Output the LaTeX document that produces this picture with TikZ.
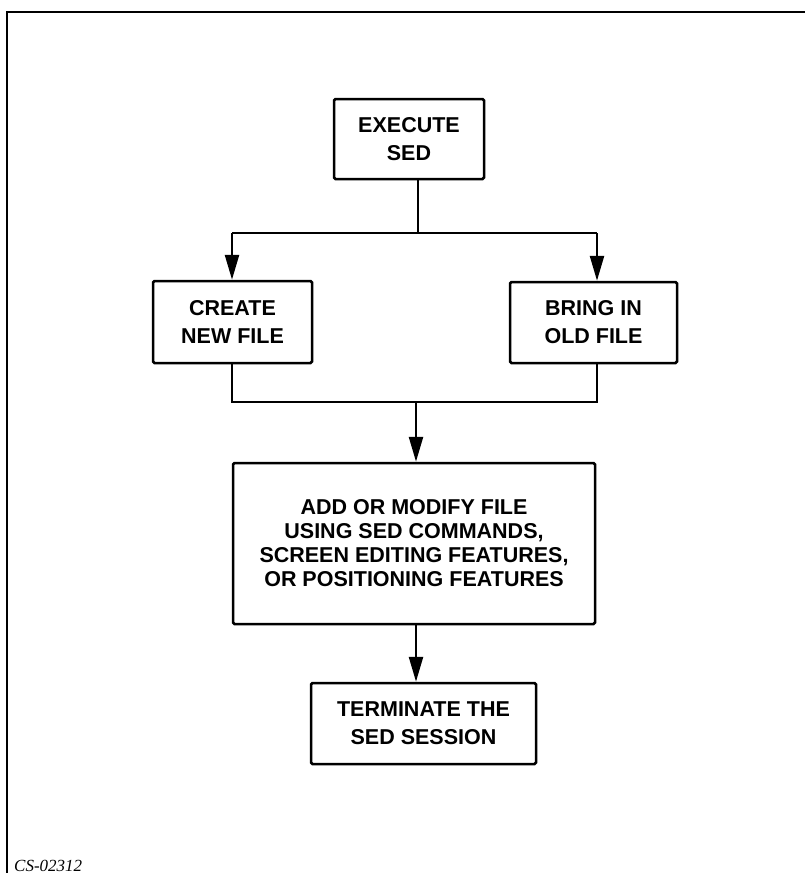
\documentclass[tikz,border=0pt]{standalone}
\usepackage{fontspec}
\setmainfont{Liberation Sans}
\newfontfamily\labelfont{Liberation Serif}
\usetikzlibrary{arrows.meta}
\tikzset{
  flowbox/.style={draw, line width=2.5pt, rounded corners=1.5pt, inner sep=0pt, align=center,
    font=\fontsize{21.5}{28}\selectfont\bfseries},
  bigbox/.style={flowbox, font=\fontsize{21.5}{24}\selectfont\bfseries},
  conn/.style={line width=2.5pt},
  arr/.style={conn, -{Triangle[length=25pt,width=14pt]}},
  frame/.style={line width=2pt}
}
\begin{document}
\begin{tikzpicture}[x=1pt,y=-1pt]
\useasboundingbox (0,0) rectangle (805,873);
% frame
\coordinate (ftr) at (805,12);
\coordinate (ftl) at (7,12);
\coordinate (fbl) at (7,880);
\draw[frame] (ftr) -- (ftl) -- (fbl);
\node[anchor=base west, inner sep=0pt, font=\labelfont\itshape\fontsize{17}{17}\selectfont] (lbl) at (14,871) {CS-02312};

% boxes
\node[flowbox, minimum width=150pt, minimum height=80pt] (exec) at (409,139) {EXECUTE\\SED};
\node[flowbox, minimum width=159pt, minimum height=82pt] (create) at (232.5,322) {CREATE\\NEW FILE};
\node[flowbox, minimum width=167pt, minimum height=81pt] (bring) at (593.5,322.5) {BRING IN\\OLD FILE};
\node[bigbox, minimum width=362pt, minimum height=161pt] (modify) at (414,543.5) {ADD OR MODIFY FILE\\USING SED COMMANDS,\\SCREEN EDITING FEATURES,\\OR POSITIONING FEATURES};
\node[flowbox, minimum width=225pt, minimum height=81pt] (term) at (423.5,723.5) {TERMINATE THE\\SED SESSION};

% junction coordinates
\coordinate (split) at (418,233);
\coordinate (lsplit) at (232,233);
\coordinate (rsplit) at (597,233);
\coordinate (merge) at (416,402);
\coordinate (lmerge) at (232,402);
\coordinate (rmerge) at (597,402);

% connectors
\draw[conn] (exec.south -| split) -- (split);
\draw[conn] (lsplit) -- (rsplit);
\draw[arr] (lsplit) -- (create.north -| lsplit);
\draw[arr] (rsplit) -- (bring.north -| rsplit);
\draw[conn] (create.south -| lmerge) -- (lmerge) -- (rmerge) -- (bring.south -| rmerge);
\draw[arr] (merge) -- (modify.north -| merge);
\draw[arr] (modify.south -| merge) -- (term.north -| merge);
\end{tikzpicture}
\end{document}
